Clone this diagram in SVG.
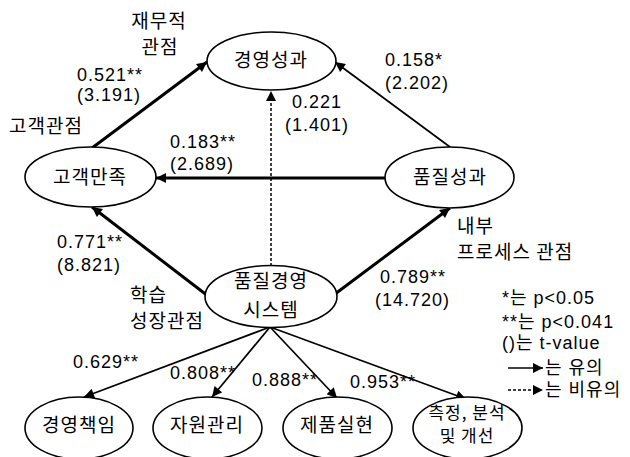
<svg xmlns="http://www.w3.org/2000/svg" width="630" height="457" viewBox="0 0 630 457">
<style>
.n{fill:#fff;stroke:#000;stroke-width:1.6}
.t{font-family:"Noto Sans CJK KR","Liberation Sans",sans-serif;font-size:19px;letter-spacing:1px;fill:#000}
.m{text-anchor:middle}
.l{font-family:"Liberation Sans","Noto Sans CJK KR",sans-serif;font-size:18px;letter-spacing:1px;fill:#000}
.k{stroke:#000;fill:none;stroke-width:3}
.s{stroke:#000;fill:none;stroke-width:1.7}
.d{stroke:#000;fill:none;stroke-width:1.5;stroke-dasharray:3 2}
</style>
<defs>
<marker id="ah" viewBox="0 0 10 10" refX="10" refY="5" markerWidth="11" markerHeight="10" markerUnits="userSpaceOnUse" orient="auto">
<path d="M0,0 L10,5 L0,10 z" fill="#000"/>
</marker>
</defs>
<rect width="630" height="457" fill="#fff"/>
<g id="connectors">
<line class="k" x1="92" y1="148" x2="207" y2="62" marker-end="url(#ah)"/>
<line class="s" x1="450" y1="147" x2="335" y2="62" marker-end="url(#ah)"/>
<line class="k" x1="385" y1="178" x2="156" y2="178" marker-end="url(#ah)"/>
<line class="d" x1="271" y1="266" x2="271" y2="91" marker-end="url(#ah)"/>
<line class="k" x1="208" y1="296" x2="92" y2="207" marker-end="url(#ah)"/>
<line class="k" x1="335" y1="294" x2="450" y2="208" marker-end="url(#ah)"/>
<line class="s" x1="270" y1="327" x2="84" y2="397" marker-end="url(#ah)"/>
<line class="s" x1="270" y1="327" x2="212" y2="397" marker-end="url(#ah)"/>
<line class="s" x1="270" y1="327" x2="337" y2="398" marker-end="url(#ah)"/>
<line class="s" x1="270" y1="327" x2="466" y2="399" marker-end="url(#ah)"/>
</g>
<g id="node-performance">
<ellipse class="n" cx="271.5" cy="61" rx="64.5" ry="29"/>
<text class="t m" x="271" y="67">경영성과</text>
</g>
<g id="node-customer">
<ellipse class="n" cx="90.5" cy="177" rx="65.5" ry="30"/>
<text class="t m" x="90" y="184">고객만족</text>
</g>
<g id="node-quality">
<ellipse class="n" cx="449.5" cy="177.5" rx="64.5" ry="30.5"/>
<text class="t m" x="450" y="184">품질성과</text>
</g>
<g id="node-qms">
<ellipse class="n" cx="271" cy="296.5" rx="66" ry="31"/>
<text class="t m" x="271" y="288">품질경영</text>
<text class="t m" x="271" y="317">시스템</text>
</g>
<g id="node-mgmt">
<ellipse class="n" cx="79" cy="428" rx="54" ry="31"/>
<text class="t m" x="79" y="432">경영책임</text>
</g>
<g id="node-resource">
<ellipse class="n" cx="207.5" cy="428" rx="54.5" ry="31"/>
<text class="t m" x="207" y="432">자원관리</text>
</g>
<g id="node-product">
<ellipse class="n" cx="337.5" cy="428" rx="54.5" ry="31"/>
<text class="t m" x="337" y="432">제품실현</text>
</g>
<g id="node-measure">
<ellipse class="n" cx="467.5" cy="428" rx="54.5" ry="31"/>
<text class="t m" x="467" y="419" style="font-size:17px">측정, 분석</text>
<text class="t m" x="467" y="442" style="font-size:17px">및 개선</text>
</g>
<g id="labels">
<text class="t m" x="159" y="28">재무적</text>
<text class="t m" x="160" y="54">관점</text>
<text class="l" x="77" y="81">0.521**</text>
<text class="l" x="77" y="101">(3.191)</text>
<text class="t" x="9" y="133">고객관점</text>
<text class="l" x="170" y="148">0.183**</text>
<text class="l" x="170" y="170">(2.689)</text>
<text class="l" x="292" y="108">0.221</text>
<text class="l" x="285" y="131">(1.401)</text>
<text class="l" x="385" y="66">0.158*</text>
<text class="l" x="385" y="89">(2.202)</text>
<text class="t" x="457" y="233">내부</text>
<text class="t" x="457" y="259">프로세스 관점</text>
<text class="l" x="380" y="283">0.789**</text>
<text class="l" x="375" y="306">(14.720)</text>
<text class="l" x="57" y="248">0.771**</text>
<text class="l" x="57" y="271">(8.821)</text>
<text class="t" x="130" y="302">학습</text>
<text class="t" x="130" y="328">성장관점</text>
<text class="l" x="73" y="368">0.629**</text>
<text class="l" x="170" y="379">0.808**</text>
<text class="l" x="252" y="386">0.888**</text>
<text class="l" x="350" y="388">0.953**</text>
</g>
<g id="legend">
<text class="l" x="502" y="304">*는 p&lt;0.05</text>
<text class="l" x="502" y="328">**는 p&lt;0.041</text>
<text class="l" x="502" y="349">()는 t-value</text>
<line class="s" x1="508" y1="368" x2="543" y2="368" marker-end="url(#ah)"/>
<text class="l" x="545" y="374">는 유의</text>
<line class="d" x1="508" y1="390" x2="543" y2="390" stroke-width="1.2" marker-end="url(#ah)"/>
<text class="l" x="545" y="396">는 비유의</text>
</g>
</svg>
